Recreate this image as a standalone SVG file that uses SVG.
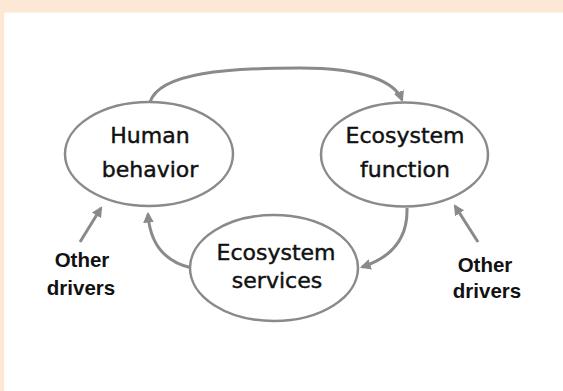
<svg xmlns="http://www.w3.org/2000/svg" width="563" height="391" viewBox="0 0 563 391">
<style>
.node{fill:#ffffff;stroke:#8a8a8a;stroke-width:2.5}
.lbl{font-family:"DejaVu Sans",Verdana,sans-serif;font-size:22px;fill:#111;stroke:#111;stroke-width:0.45;text-anchor:middle}
.drv{font-family:"Liberation Sans",Arial,sans-serif;font-size:20.5px;font-weight:bold;fill:#111;text-anchor:middle}
.con{fill:none;stroke:#8a8a8a;stroke-width:3;marker-end:url(#ah)}
</style>
<defs>
<marker id="ah" viewBox="0 0 10 10" refX="8" refY="5" markerWidth="3.6" markerHeight="3.6" orient="auto" markerUnits="strokeWidth">
<path d="M0,0 L10,5 L0,10 z" fill="#8a8a8a"/>
</marker>
</defs>
<rect x="0" y="0" width="563" height="391" fill="#ffffff"/>
<rect x="0" y="0" width="563" height="12.5" fill="#fde8d6"/>
<rect x="0" y="0" width="4.3" height="391" fill="#fde8d6"/>
<g id="connectors">
<path class="con" d="M150,102 C160,72 230,68 300,68 C365,68 395,82 402,100"/>
<path class="con" d="M407,208 C408,240 390,258 362,267"/>
<path class="con" d="M192,268 C165,262 150,245 148,214"/>
<path class="con" d="M80,242 L101,208"/>
<path class="con" d="M478,242 L455,206"/>
</g>
<g id="human-behavior">
<ellipse class="node" cx="149" cy="154" rx="84" ry="52"/>
<text class="lbl" x="150" y="143">Human</text>
<text class="lbl" x="150" y="177">behavior</text>
</g>
<g id="ecosystem-function">
<ellipse class="node" cx="404.5" cy="154.5" rx="83.5" ry="52"/>
<text class="lbl" x="405" y="143">Ecosystem</text>
<text class="lbl" x="405" y="177">function</text>
</g>
<g id="ecosystem-services">
<ellipse class="node" cx="274" cy="268" rx="84" ry="53"/>
<text class="lbl" x="276" y="260">Ecosystem</text>
<text class="lbl" x="277" y="288">services</text>
</g>
<g id="other-drivers-left">
<text class="drv" x="82" y="267">Other</text>
<text class="drv" x="81" y="295">drivers</text>
</g>
<g id="other-drivers-right">
<text class="drv" x="485" y="272">Other</text>
<text class="drv" x="487" y="298">drivers</text>
</g>
</svg>
